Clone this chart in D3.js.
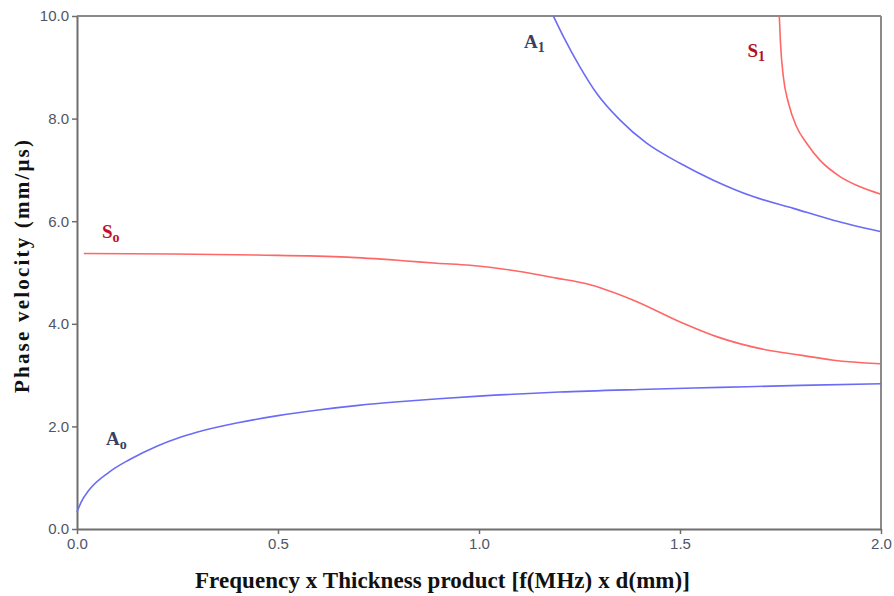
<!DOCTYPE html>
<html>
<head>
<meta charset="utf-8">
<script src="https://cdn.jsdelivr.net/npm/d3@7"></script>
<style>
  html, body { margin: 0; padding: 0; background: #fff; }
  svg { display: block; }
</style>
</head>
<body>
<svg id="chart" width="894" height="596"></svg>
<script>
// ---- data ----
const xTicks = [0.0, 0.5, 1.0, 1.5, 2.0];
const yTicks = [0, 2, 4, 6, 8, 10];

const A0 = [[0.0,0.33],[0.01,0.52],[0.03,0.76],[0.08,1.11],[0.13,1.35],[0.2,1.62],[0.25,1.77],[0.3,1.89],
  [0.4,2.07],[0.5,2.21],[0.6,2.32],[0.7,2.41],[0.8,2.48],[0.9,2.54],[1.0,2.59],[1.2,2.67],[1.4,2.72],
  [1.6,2.76],[1.8,2.80],[2.0,2.83]];
const S0 = [[0.017,5.37],[0.239,5.36],[0.447,5.34],[0.671,5.30],[0.811,5.23],[0.895,5.18],[0.978,5.14],
  [1.077,5.05],[1.193,4.89],[1.268,4.78],[1.384,4.46],[1.508,4.01],[1.591,3.75],[1.716,3.49],
  [1.799,3.39],[1.882,3.29],[1.998,3.22]];
const A1 = [[1.185,10.0],[1.21,9.6],[1.251,9.01],[1.293,8.49],[1.351,7.97],[1.417,7.52],[1.5,7.13],
  [1.583,6.80],[1.682,6.48],[1.782,6.25],[1.881,6.02],[1.998,5.80]];
const S1 = [[1.747,10.0],[1.750,9.47],[1.757,8.82],[1.770,8.30],[1.790,7.84],[1.815,7.52],[1.848,7.19],
  [1.898,6.87],[1.948,6.67],[1.998,6.53]];

const labels = [
  {main: "A", sub: "1", x: 1.112, y: 9.38, color: "#3a4060"},
  {main: "S", sub: "1", x: 1.668, y: 9.2, color: "#b0102a"},
  {main: "S", sub: "o", x: 0.062, y: 5.67, color: "#c0102a"},
  {main: "A", sub: "o", x: 0.072, y: 1.64, color: "#3a4060"}
];

// ---- layout ----
const svg = d3.select("#chart");
const mLeft = 77, mRight = 881, mTop = 16, mBottom = 529;
const x = d3.scaleLinear().domain([0, 2]).range([mLeft, mRight]);
const y = d3.scaleLinear().domain([0, 10]).range([mBottom, mTop]);

const axisColor = "#6e6e6e";
const tickColor = "#4f5566";

// frame (top and right)
svg.append("line").attr("x1", mLeft).attr("x2", mRight).attr("y1", mTop).attr("y2", mTop)
  .attr("stroke", "#8a8a8a").attr("stroke-width", 2);
svg.append("line").attr("x1", mRight).attr("x2", mRight).attr("y1", mTop).attr("y2", mBottom)
  .attr("stroke", "#8a8a8a").attr("stroke-width", 2);

// axes
const xAxis = d3.axisBottom(x).tickValues(xTicks).tickFormat(d3.format(".1f")).tickSize(5).tickSizeOuter(0);
const yAxis = d3.axisLeft(y).tickValues(yTicks).tickFormat(d3.format(".1f")).tickSize(5).tickSizeOuter(0);

const gx = svg.append("g").attr("transform", `translate(0,${mBottom})`).call(xAxis);
const gy = svg.append("g").attr("transform", `translate(${mLeft},0)`).call(yAxis);
[gx, gy].forEach(g => {
  g.select(".domain").attr("stroke", axisColor).attr("stroke-width", 2);
  g.selectAll(".tick line").attr("stroke", axisColor).attr("stroke-width", 1.5);
  g.selectAll(".tick text").attr("fill", tickColor)
    .style("font-family", "Liberation Sans, Arial, sans-serif").style("font-size", "15px");
});
gx.selectAll(".tick text").attr("dy", "0.9em").attr("y", 6);
gy.selectAll(".tick text").attr("x", -8);

// curves
const line = d3.line().x(d => x(d[0])).y(d => y(d[1])).curve(d3.curveMonotoneX);
const series = [
  {data: A0, color: "#6b6bf5"},
  {data: S0, color: "#ff6666"},
  {data: A1, color: "#6b6bf5"},
  {data: S1, color: "#ff6666"}
];
svg.append("g").selectAll("path").data(series).join("path")
  .attr("d", d => line(d.data))
  .attr("fill", "none")
  .attr("stroke", d => d.color)
  .attr("stroke-width", 1.6);

// curve labels
const lg = svg.append("g").style("font-family", "Liberation Serif, Times New Roman, serif").style("font-weight", "bold");
labels.forEach(l => {
  const t = lg.append("text").attr("x", x(l.x)).attr("y", y(l.y)).attr("fill", l.color).style("font-size", "19px");
  t.append("tspan").text(l.main);
  t.append("tspan").text(l.sub).attr("dy", 4).style("font-size", "14px");
});

// axis titles
svg.append("text")
  .attr("x", 195).attr("y", 588)
  .attr("textLength", 495).attr("lengthAdjust", "spacing")
  .style("font-family", "Liberation Serif, Times New Roman, serif")
  .style("font-weight", "bold").style("font-size", "23px")
  .attr("fill", "#111")
  .text("Frequency x Thickness product [f(MHz) x d(mm)]");

svg.append("text")
  .attr("transform", `translate(29,393) rotate(-90)`)
  .attr("textLength", 253).attr("lengthAdjust", "spacing")
  .style("font-family", "Liberation Serif, Times New Roman, serif")
  .style("font-weight", "bold").style("font-size", "21px")
  .attr("fill", "#111")
  .text("Phase velocity  (mm/μs)");
</script>
</body>
</html>
